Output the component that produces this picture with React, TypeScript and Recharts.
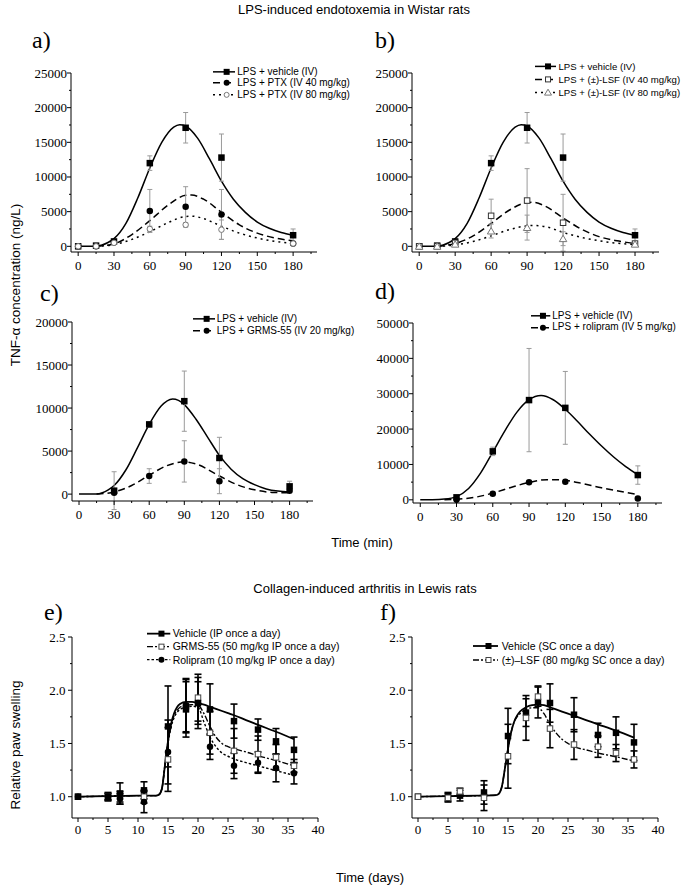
import React from 'react';
import { ComposedChart, Line, Scatter, XAxis, YAxis, ErrorBar, Legend } from 'recharts';

const SANS = '"Liberation Sans", Arial, Helvetica, sans-serif';
const SERIF = '"Liberation Serif", "Times New Roman", Times, serif';

// ---------------- LPS panels a / b (time in min) ----------------
const timeMin = [0, 15, 30, 60, 90, 120, 180];
const lpsVehicleAB = [0, 100, 700, 12000, 17100, 12800, 1600];
const lpsVehicleABErr = [0, 0, 200, 1050, 2200, 3400, 900];
const ptx40 = [0, 0, 600, 5100, 5700, 4600, 400];
const ptx40Err = [0, 0, 0, 3100, 2900, 3600, 0];
const ptx80 = [0, 0, 500, 2500, 3100, 2400, 400];
const ptx80Err = [0, 0, 0, 400, 300, 1400, 0];
const lsf40 = [0, 0, 500, 4400, 6600, 3400, 400];
const lsf40Err = [0, 0, 0, 2400, 4600, 4100, 0];
const lsf80 = [0, 0, 300, 2200, 2700, 1100, 300];
const lsf80Err = [0, 0, 0, 1000, 1800, 1000, 0];

const fitABx = [0, 10, 15, 20, 25, 30, 40, 50, 60, 70, 80, 85, 90, 100, 110, 120, 130, 140, 150, 160, 170, 180];
const fitABVehicle = [0, 0, 30, 200, 550, 1100, 3300, 7000, 11300, 15000, 17200, 17550, 17350, 15600, 12600, 9400, 6800, 4900, 3500, 2600, 2000, 1600];
const fitABx2 = [15, 30, 45, 60, 75, 90, 95, 105, 120, 135, 150, 165, 180];
const fitPtx40 = [0, 350, 1700, 3700, 5900, 7350, 7400, 6800, 4900, 3100, 1900, 1200, 800];
const fitPtx80 = [0, 250, 1000, 2100, 3400, 4300, 4350, 4000, 2900, 1900, 1200, 700, 450];
const fitLsf40 = [0, 400, 1500, 3300, 5200, 6300, 6350, 5800, 4100, 2500, 1400, 800, 400];
const fitLsf80 = [0, 200, 700, 1500, 2400, 2950, 3000, 2850, 2000, 1300, 800, 450, 250];

// ---------------- panel c ----------------
const timeC = [30, 60, 90, 120, 180];
const cVehicle = [400, 8100, 10800, 4200, 900];
const cVehicleErr = [2200, 300, 3500, 2400, 600];
const cGrms = [150, 2100, 3800, 1500, 400];
const cGrmsErr = [0, 850, 2400, 1450, 0];
const fitCx = [0, 15, 20, 25, 30, 40, 50, 60, 70, 80, 85, 90, 100, 110, 120, 130, 140, 150, 160, 170, 180];
const fitCVehicle = [0, 0, 150, 500, 1000, 2800, 5400, 8100, 10200, 11050, 10900, 10400, 8700, 6600, 4500, 2900, 1800, 1100, 600, 350, 250];
const fitCx2 = [15, 30, 45, 60, 75, 90, 100, 120, 135, 150, 165, 180];
const fitCGrms = [0, 250, 1000, 2200, 3300, 3750, 3500, 2100, 1100, 500, 200, 150];

// ---------------- panel d ----------------
const timeD = [30, 60, 90, 120, 180];
const dVehicle = [700, 13700, 28200, 26000, 7000];
const dVehicleErr = [300, 1200, 14600, 10300, 2600];
const dRoli = [0, 1700, 5000, 5100, 400];
const dRoliErr = [0, 0, 0, 0, 0];
const fitDx = [0, 10, 20, 30, 40, 50, 60, 70, 80, 90, 100, 110, 120, 130, 140, 150, 160, 170, 180];
const fitDVehicle = [0, 30, 200, 900, 3200, 7600, 13500, 19500, 24800, 28300, 29500, 28300, 25600, 22200, 18600, 15200, 12100, 9400, 7100];
const fitDx2 = [20, 30, 45, 60, 75, 90, 105, 115, 130, 150, 165, 180];
const fitDRoli = [0, 150, 700, 1900, 3500, 4900, 5700, 5700, 4900, 3400, 2400, 1500];

// ---------------- arthritis panels e / f (days) ----------------
const days = [0, 5, 7, 11, 15, 18, 20, 22, 26, 30, 33, 36];
const eVehicle = [1.0, 1.0, 1.03, 1.06, 1.66, 1.82, 1.88, 1.82, 1.71, 1.63, 1.52, 1.44];
const eVehicleErr = [0, 0.04, 0.1, 0.08, 0.38, 0.26, 0.24, 0.24, 0.16, 0.1, 0.12, 0.12];
const eGrms = [1.0, 1.0, 1.0, 1.0, 1.35, 1.85, 1.93, 1.6, 1.43, 1.4, 1.37, 1.29];
const eGrmsErr = [0, 0.03, 0.05, 0.06, 0.3, 0.25, 0.22, 0.2, 0.21, 0.17, 0.12, 0.06];
const eRoli = [1.0, 1.0, 0.98, 0.95, 1.42, 1.86, 1.88, 1.47, 1.29, 1.32, 1.27, 1.22];
const eRoliErr = [0, 0.03, 0.05, 0.1, 0.3, 0.25, 0.2, 0.12, 0.12, 0.1, 0.13, 0.1];
const fVehicle = [1.0, 1.0, 1.01, 1.04, 1.57, 1.79, 1.89, 1.88, 1.77, 1.58, 1.6, 1.51];
const fVehicleErr = [0, 0.04, 0.05, 0.11, 0.26, 0.13, 0.15, 0.18, 0.16, 0.11, 0.15, 0.17];
const fLsf = [1.0, 0.99, 1.05, 0.99, 1.38, 1.74, 1.94, 1.64, 1.49, 1.47, 1.41, 1.35];
const fLsfErr = [0, 0.04, 0.03, 0.12, 0.3, 0.21, 0.09, 0.18, 0.14, 0.1, 0.08, 0.08];

const fitEFx = [0, 5, 10, 13, 13.5, 14, 14.5, 15, 15.5, 16, 16.5, 17, 18, 19, 20, 21, 22, 23, 24, 25, 26, 28, 30, 33, 36];
const fitEVehicle = [1.0, 1.005, 1.01, 1.01, 1.02, 1.08, 1.3, 1.52, 1.68, 1.78, 1.84, 1.87, 1.89, 1.89, 1.88, 1.865, 1.845, 1.825, 1.805, 1.785, 1.765, 1.72, 1.675, 1.61, 1.54];
const fitEGrms = [1.0, 1.005, 1.01, 1.01, 1.02, 1.08, 1.3, 1.52, 1.67, 1.76, 1.81, 1.84, 1.86, 1.865, 1.86, 1.78, 1.66, 1.56, 1.5, 1.47, 1.45, 1.42, 1.385, 1.34, 1.29];
const fitERoli = [1.0, 1.005, 1.01, 1.01, 1.02, 1.08, 1.3, 1.5, 1.65, 1.74, 1.79, 1.82, 1.84, 1.85, 1.84, 1.7, 1.56, 1.47, 1.41, 1.38, 1.355, 1.32, 1.29, 1.245, 1.2];
const fitFVehicle = [1.0, 1.005, 1.01, 1.015, 1.03, 1.1, 1.27, 1.45, 1.6, 1.7, 1.76, 1.8, 1.84, 1.86, 1.865, 1.86, 1.84, 1.82, 1.8, 1.78, 1.76, 1.72, 1.68, 1.62, 1.555];
const fitFLsf = [1.0, 1.005, 1.01, 1.015, 1.03, 1.1, 1.27, 1.45, 1.6, 1.7, 1.75, 1.78, 1.82, 1.835, 1.835, 1.78, 1.68, 1.6, 1.54, 1.5, 1.47, 1.44, 1.41, 1.375, 1.335];

// ---------------- ticks ----------------
const minTicks = [0, 15, 30, 45, 60, 75, 90, 105, 120, 135, 150, 165, 180, 195];
const minMajor = [0, 30, 60, 90, 120, 150, 180];
const tnf25Ticks = [0, 2500, 5000, 7500, 10000, 12500, 15000, 17500, 20000, 22500, 25000];
const tnf25Major = [0, 5000, 10000, 15000, 20000, 25000];
const tnf20Ticks = [0, 2500, 5000, 7500, 10000, 12500, 15000, 17500, 20000];
const tnf20Major = [0, 5000, 10000, 15000, 20000];
const tnf50Ticks = [0, 5000, 10000, 15000, 20000, 25000, 30000, 35000, 40000, 45000, 50000];
const tnf50Major = [0, 10000, 20000, 30000, 40000, 50000];
const dayTicks = [0, 2.5, 5, 7.5, 10, 12.5, 15, 17.5, 20, 22.5, 25, 27.5, 30, 32.5, 35, 37.5, 40];
const dayMajor = [0, 5, 10, 15, 20, 25, 30, 35, 40];
const swellTicks = [1.0, 1.25, 1.5, 1.75, 2.0, 2.25, 2.5];
const swellMajor = [1.0, 1.5, 2.0, 2.5];

type MarkerKind = 'sqFill' | 'sqOpen' | 'cirFill' | 'cirOpen' | 'triOpen';

interface SeriesDef {
  name: string;
  x: number[];
  y: number[];
  err: number[];
  fx: number[];
  fy: number[];
  marker: MarkerKind;
  mcolor: string;
  dash?: string;
  lw: number;
}

function Marker({ kind, cx, cy, size, color }: { kind: MarkerKind; cx: number; cy: number; size: number; color: string }) {
  const s = size;
  if (kind === 'sqFill') return <rect x={cx - s / 2} y={cy - s / 2} width={s} height={s} fill={color} />;
  if (kind === 'sqOpen')
    return <rect x={cx - s / 2 + 0.5} y={cy - s / 2 + 0.5} width={s - 1} height={s - 1} fill="#fff" stroke={color} strokeWidth={1} />;
  if (kind === 'cirFill') return <circle cx={cx} cy={cy} r={s / 2} fill={color} />;
  if (kind === 'cirOpen') return <circle cx={cx} cy={cy} r={s / 2 - 0.5} fill="#fff" stroke={color} strokeWidth={1} />;
  const h = s * 0.9;
  return (
    <polygon
      points={`${cx},${cy - h / 2 - 0.5} ${cx - s / 2 - 0.5},${cy + h / 2} ${cx + s / 2 + 0.5},${cy + h / 2}`}
      fill="#fff"
      stroke={color}
      strokeWidth={1}
    />
  );
}

const near = (arr: number[], v: number) => arr.some((m) => Math.abs(m - v) < 1e-9);

const makeXTick = (major: number[], fmt: (v: number) => string, dy: number) => (props: any) => {
  const { x, y, payload } = props;
  const v = payload.value;
  const isMajor = near(major, v);
  return (
    <g>
      <line x1={x} x2={x} y1={y} y2={y + (isMajor ? 4 : 2)} stroke="#000" strokeWidth={1} />
      {isMajor && (
        <text x={x} y={y + dy} textAnchor="middle" fontFamily={SERIF} fontSize={13} fill="#000">
          {fmt(v)}
        </text>
      )}
    </g>
  );
};

const makeYTick = (major: number[], fmt: (v: number) => string, gap: number) => (props: any) => {
  const { x, y, payload } = props;
  const v = payload.value;
  const isMajor = near(major, v);
  return (
    <g>
      <line x1={x - (isMajor ? 4 : 2)} x2={x} y1={y} y2={y} stroke="#000" strokeWidth={1} />
      {isMajor && (
        <text x={x - gap} y={y + 4.5} textAnchor="end" fontFamily={SERIF} fontSize={13} fill="#000">
          {fmt(v)}
        </text>
      )}
    </g>
  );
};

interface PanelDef {
  id: string;
  left: number;
  top: number;
  w: number;
  h: number;
  xDomain: [number, number];
  yDomain: [number, number];
  xTicks: number[];
  xMajor: number[];
  yTicks: number[];
  yMajor: number[];
  yFmt: (v: number) => string;
  xLabelDy: number;
  yLabelGap: number;
  series: SeriesDef[];
  legendOrder?: number[];
  errColor: string;
  errW: number;
  errCap: number;
  msize: number;
  legend: { x: number; y: number; rowH: number; sampleW: number; gap: number; fs: number };
}

const YW = 50;
const MT = 10;
const MR = 15;
const XH = 30;

function LegendBox({ p }: { p: PanelDef }) {
  const L = p.legend;
  const items = p.legendOrder ? p.legendOrder.map((k) => p.series[k]) : p.series;
  return (
    <div style={{ fontFamily: SANS, fontSize: L.fs, color: '#000', lineHeight: 1 }}>
      {items.map((s, i) => (
        <div key={i} style={{ display: 'flex', alignItems: 'center', height: L.rowH, whiteSpace: 'nowrap' }}>
          <svg width={L.sampleW} height={L.rowH} style={{ display: 'block', overflow: 'visible', flex: 'none' }}>
            <line x1={0} x2={L.sampleW} y1={L.rowH / 2} y2={L.rowH / 2} stroke="#000" strokeWidth={s.lw} strokeDasharray={s.dash} />
            <Marker kind={s.marker} cx={L.sampleW * 0.62} cy={L.rowH / 2} size={p.msize - 0.5} color={s.mcolor} />
          </svg>
          <span style={{ marginLeft: L.gap }}>{s.name}</span>
        </div>
      ))}
    </div>
  );
}

function Panel({ p }: { p: PanelDef }) {
  const chartLeft = p.left - YW;
  const chartTop = p.top - MT;
  const W = p.w + YW + MR;
  const H = p.h + MT + XH;
  return (
    <div style={{ position: 'absolute', left: chartLeft, top: chartTop }}>
      <ComposedChart width={W} height={H} margin={{ top: MT, right: MR, bottom: 0, left: 0 }}>
        <XAxis
          dataKey="x"
          type="number"
          domain={p.xDomain}
          ticks={p.xTicks}
          interval={0}
          allowDataOverflow
          tickLine={false}
          tickSize={0}
          tickMargin={0}
          height={XH}
          axisLine={{ stroke: '#000', strokeWidth: 1 }}
          tick={makeXTick(p.xMajor, (v) => String(v), p.xLabelDy)}
        />
        <YAxis
          dataKey="y"
          type="number"
          domain={p.yDomain}
          ticks={p.yTicks}
          interval={0}
          allowDataOverflow
          tickLine={false}
          tickSize={0}
          tickMargin={0}
          width={YW}
          axisLine={{ stroke: '#000', strokeWidth: 1 }}
          tick={makeYTick(p.yMajor, p.yFmt, p.yLabelGap)}
        />
        {p.series.map((s, i) => (
          <Line
            key={`l${i}`}
            data={s.fx.map((x, k) => ({ x, y: s.fy[k] }))}
            dataKey="y"
            type="monotone"
            stroke="#000"
            strokeWidth={s.lw}
            strokeDasharray={s.dash}
            dot={false}
            activeDot={false}
            isAnimationActive={false}
            legendType="none"
          />
        ))}
        {p.series.map((s, i) => (
          <Scatter
            key={`s${i}`}
            data={s.x.map((x, k) => ({ x, y: s.y[k], e: s.err[k] }))}
            dataKey="y"
            isAnimationActive={false}
            legendType="none"
            shape={(props: any) => <Marker kind={s.marker} cx={props.cx} cy={props.cy} size={p.msize} color={s.mcolor} />}
          >
            <ErrorBar dataKey="e" direction="y" width={p.errCap} stroke={p.errColor} strokeWidth={p.errW} isAnimationActive={false} />
          </Scatter>
        ))}
        <Legend
          layout="horizontal"
          verticalAlign="middle"
          align="center"
          wrapperStyle={{ left: p.legend.x - chartLeft, top: p.legend.y - chartTop, width: 'max-content', height: 'auto' }}
          content={() => <LegendBox p={p} />}
        />
      </ComposedChart>
    </div>
  );
}

const SOLID = 1.5;
const DASH = '7 4';
const DOT = '2 4';
const intFmt = (v: number) => String(v);
const decFmt = (v: number) => v.toFixed(1);

const vehicleAB: SeriesDef = {
  name: 'LPS + vehicle (IV)', x: timeMin, y: lpsVehicleAB, err: lpsVehicleABErr,
  fx: fitABx, fy: fitABVehicle, marker: 'sqFill', mcolor: '#000', lw: SOLID,
};

const panels: PanelDef[] = [
  {
    id: 'a', left: 71, top: 73, w: 246, h: 179, xDomain: [-6, 200], yDomain: [-820, 25000],
    xTicks: minTicks, xMajor: minMajor, yTicks: tnf25Ticks, yMajor: tnf25Major, yFmt: intFmt,
    xLabelDy: 17.5, yLabelGap: 4, errColor: '#9a9a9a', errW: 1, errCap: 2.5, msize: 6.5,
    legend: { x: 213, y: 65.8, rowH: 11.7, sampleW: 22, gap: 2.3, fs: 10 },
    series: [
      vehicleAB,
      { name: 'LPS + PTX (IV 40 mg/kg)', x: timeMin, y: ptx40, err: ptx40Err, fx: fitABx2, fy: fitPtx40, marker: 'cirFill', mcolor: '#000', dash: DASH, lw: 1.5 },
      { name: 'LPS + PTX (IV 80 mg/kg)', x: timeMin, y: ptx80, err: ptx80Err, fx: fitABx2, fy: fitPtx80, marker: 'cirOpen', mcolor: '#777', dash: DOT, lw: 1.5 },
    ],
  },
  {
    id: 'b', left: 412, top: 73, w: 247, h: 179, xDomain: [-6, 200], yDomain: [-820, 25000],
    xTicks: minTicks, xMajor: minMajor, yTicks: tnf25Ticks, yMajor: tnf25Major, yFmt: intFmt,
    xLabelDy: 17.5, yLabelGap: 4, errColor: '#9a9a9a', errW: 1, errCap: 2.5, msize: 6.5,
    legend: { x: 535, y: 60.3, rowH: 12.8, sampleW: 21, gap: 2.4, fs: 9.6 },
    series: [
      vehicleAB,
      { name: 'LPS + (\u00b1)-LSF (IV 40 mg/kg)', x: timeMin, y: lsf40, err: lsf40Err, fx: fitABx2, fy: fitLsf40, marker: 'sqOpen', mcolor: '#333', dash: DASH, lw: 1.5 },
      { name: 'LPS + (\u00b1)-LSF (IV 80 mg/kg)', x: timeMin, y: lsf80, err: lsf80Err, fx: fitABx2, fy: fitLsf80, marker: 'triOpen', mcolor: '#777', dash: DOT, lw: 1.5 },
    ],
  },
  {
    id: 'c', left: 72, top: 322, w: 241, h: 179, xDomain: [-6, 200], yDomain: [-800, 20000],
    xTicks: minTicks, xMajor: minMajor, yTicks: tnf20Ticks, yMajor: tnf20Major, yFmt: intFmt,
    xLabelDy: 17.5, yLabelGap: 4, errColor: '#9a9a9a', errW: 1, errCap: 2.5, msize: 6.5,
    legend: { x: 193, y: 313.4, rowH: 11.7, sampleW: 22, gap: 1.7, fs: 10 },
    series: [
      { name: 'LPS + vehicle (IV)', x: timeC, y: cVehicle, err: cVehicleErr, fx: fitCx, fy: fitCVehicle, marker: 'sqFill', mcolor: '#000', lw: SOLID },
      { name: 'LPS + GRMS-55 (IV 20 mg/kg)', x: timeC, y: cGrms, err: cGrmsErr, fx: fitCx2, fy: fitCGrms, marker: 'cirFill', mcolor: '#000', dash: DASH, lw: 1.5 },
    ],
  },
  {
    id: 'd', left: 413, top: 323, w: 249, h: 180, xDomain: [-6, 200], yDomain: [-900, 50000],
    xTicks: minTicks, xMajor: minMajor, yTicks: tnf50Ticks, yMajor: tnf50Major, yFmt: intFmt,
    xLabelDy: 17.5, yLabelGap: 4, errColor: '#9a9a9a', errW: 1, errCap: 2.5, msize: 6.5,
    legend: { x: 530.7, y: 309.9, rowH: 11.6, sampleW: 19.3, gap: 2.3, fs: 10 },
    series: [
      { name: 'LPS + vehicle (IV)', x: timeD, y: dVehicle, err: dVehicleErr, fx: fitDx, fy: fitDVehicle, marker: 'sqFill', mcolor: '#000', lw: SOLID },
      { name: 'LPS + rolipram (IV 5 mg/kg)', x: timeD, y: dRoli, err: dRoliErr, fx: fitDx2, fy: fitDRoli, marker: 'cirFill', mcolor: '#000', dash: DASH, lw: 1.5 },
    ],
  },
  {
    id: 'e', left: 72, top: 637, w: 246, h: 181, xDomain: [-1, 40], yDomain: [0.8, 2.5],
    xTicks: dayTicks, xMajor: dayMajor, yTicks: swellTicks, yMajor: swellMajor, yFmt: decFmt,
    xLabelDy: 16, yLabelGap: 6.5, errColor: '#000', errW: 1.6, errCap: 3.5, msize: 6.5,
    legend: { x: 146.7, y: 626.6, rowH: 13.3, sampleW: 23.3, gap: 2.7, fs: 10.5 },
    legendOrder: [2, 0, 1],
    series: [
      { name: 'GRMS-55 (50 mg/kg IP once a day)', x: days, y: eGrms, err: eGrmsErr, fx: fitEFx, fy: fitEGrms, marker: 'sqOpen', mcolor: '#444', dash: '6 2 2 2', lw: 1.4 },
      { name: 'Rolipram (10 mg/kg IP once a day)', x: days, y: eRoli, err: eRoliErr, fx: fitEFx, fy: fitERoli, marker: 'cirFill', mcolor: '#000', dash: '2.5 2', lw: 1.4 },
      { name: 'Vehicle (IP once a day)', x: days, y: eVehicle, err: eVehicleErr, fx: fitEFx, fy: fitEVehicle, marker: 'sqFill', mcolor: '#000', lw: 1.8 },
    ],
  },
  {
    id: 'f', left: 412, top: 637, w: 246, h: 181, xDomain: [-1, 40], yDomain: [0.8, 2.5],
    xTicks: dayTicks, xMajor: dayMajor, yTicks: swellTicks, yMajor: swellMajor, yFmt: decFmt,
    xLabelDy: 16, yLabelGap: 6.5, errColor: '#000', errW: 1.6, errCap: 3.5, msize: 6.5,
    legend: { x: 473.3, y: 639, rowH: 14, sampleW: 25, gap: 3.4, fs: 10.5 },
    series: [
      { name: 'Vehicle (SC once a day)', x: days, y: fVehicle, err: fVehicleErr, fx: fitEFx, fy: fitFVehicle, marker: 'sqFill', mcolor: '#000', lw: 1.8 },
      { name: '(\u00b1)\u2013LSF (80 mg/kg SC once a day)', x: days, y: fLsf, err: fLsfErr, fx: fitEFx, fy: fitFLsf, marker: 'sqOpen', mcolor: '#444', dash: '6 2 2 2', lw: 1.4 },
    ],
  },
];

export default function App() {
  return (
    <div style={{ position: 'absolute', left: 0, top: 0, width: 685, height: 887, background: '#fff', overflow: 'hidden' }}>
      {panels.map((p) => (
        <Panel key={p.id} p={p} />
      ))}
      <svg width={685} height={887} style={{ position: 'absolute', left: 0, top: 0, pointerEvents: 'none' }}>
        <text x={354} y={14} textAnchor="middle" fontFamily={SANS} fontSize={13} fill="#000">LPS-induced endotoxemia in Wistar rats</text>
        <text x={365} y={592.5} textAnchor="middle" fontFamily={SANS} fontSize={13} fill="#000">Collagen-induced arthritis in Lewis rats</text>
        <text x={362} y={546.5} textAnchor="middle" fontFamily={SANS} fontSize={13} fill="#000">Time (min)</text>
        <text x={370} y={881.5} textAnchor="middle" fontFamily={SANS} fontSize={13} fill="#000">Time (days)</text>
        <text transform="translate(20,285) rotate(-90)" textAnchor="middle" fontFamily={SANS} fontSize={13.5} fill="#000">TNF-α concentration (ng/L)</text>
        <text transform="translate(20,745) rotate(-90)" textAnchor="middle" fontFamily={SANS} fontSize={13.5} fill="#000">Relative paw swelling</text>
        <text x={32} y={48} fontFamily={SERIF} fontSize={24} fill="#000">a)</text>
        <text x={375} y={48} fontFamily={SERIF} fontSize={24} fill="#000">b)</text>
        <text x={40} y={301} fontFamily={SERIF} fontSize={24} fill="#000">c)</text>
        <text x={375} y={299} fontFamily={SERIF} fontSize={24} fill="#000">d)</text>
        <text x={44} y={620} fontFamily={SERIF} fontSize={24} fill="#000">e)</text>
        <text x={380} y={620} fontFamily={SERIF} fontSize={24} fill="#000">f)</text>
      </svg>
    </div>
  );
}
